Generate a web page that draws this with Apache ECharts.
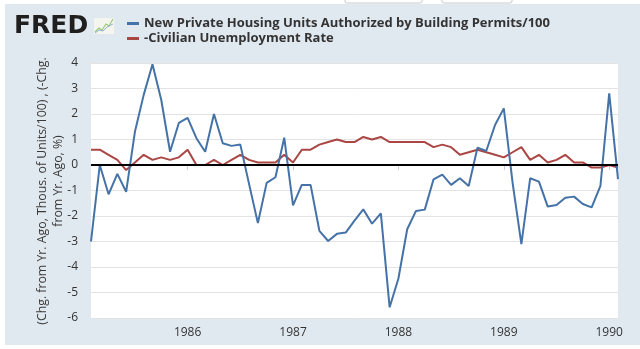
<!DOCTYPE html>
<html>
<head>
<meta charset="utf-8">
<script src="https://cdn.jsdelivr.net/npm/echarts@6/dist/echarts.min.js"></script>
<style>
html,body{margin:0;padding:0;background:#ffffff;}
#chart{width:640px;height:349px;}
</style>
</head>
<body>
<div id="chart"></div>
<script>
// Monthly observations, Feb 1985 .. Feb 1990
var startYear = 1985, startMonth = 2, nPoints = 61;
var categories = [];
for (var i = 0; i < nPoints; i++) {
  var m = startMonth - 1 + i;
  var y = startYear + Math.floor(m / 12);
  var mm = (m % 12) + 1;
  categories.push(y + '-' + (mm < 10 ? '0' + mm : mm));
}

var seriesNames = [
  'New Private Housing Units Authorized by Building Permits/100',
  '-Civilian Unemployment Rate'
];

var permits = [
  -3.0, 0.0, -1.15, -0.35, -1.05, 1.3, 2.75, 3.95, 2.55, 0.52, 1.65, 1.85,
  1.05, 0.52, 2.0, 0.85, 0.75, 0.8, -0.75, -2.28, -0.7, -0.48, 1.07, -1.58,
  -0.78, -0.78, -2.58, -2.98, -2.7, -2.65, -2.18, -1.74, -2.3, -1.9, -5.58, -4.45,
  -2.52, -1.8, -1.75, -0.56, -0.38, -0.78, -0.52, -0.82, 0.68, 0.55, 1.57, 2.22,
  -0.7, -3.1, -0.52, -0.65, -1.63, -1.57, -1.28, -1.24, -1.53, -1.66, -0.82, 2.81,
  -0.55
];

var unemployment = [
  0.6, 0.6, 0.4, 0.2, -0.2, 0.1, 0.4, 0.2, 0.3, 0.2, 0.3, 0.6,
  0.0, 0.0, 0.2, 0.0, 0.2, 0.4, 0.2, 0.1, 0.1, 0.1, 0.4, 0.1,
  0.6, 0.6, 0.8, 0.9, 1.0, 0.9, 0.9, 1.1, 1.0, 1.1, 0.9, 0.9,
  0.9, 0.9, 0.9, 0.7, 0.8, 0.7, 0.4, 0.5, 0.6, 0.5, 0.4, 0.3,
  0.5, 0.7, 0.2, 0.4, 0.1, 0.2, 0.4, 0.1, 0.1, -0.1, -0.1, 0.0,
  -0.1
];

var yMin = -6, yMax = 4, yInterval = 1;
var yTitleLines = ['(Chg. from Yr. Ago, Thous. of Units/100) , (-Chg.', 'from Yr. Ago, %)'];

var font = '"Open Sans", "Liberation Sans", sans-serif';
var chart = echarts.init(document.getElementById('chart'), null, {renderer: 'canvas'});

function isJanuary(idx) { return categories[idx].slice(5) === '01'; }

chart.setOption({
  animation: false,
  backgroundColor: '#ffffff',
  graphic: [
    {type: 'rect', shape: {x: 5, y: 4, width: 640, height: 341}, style: {fill: '#e1e9f0'}, z: -10},
    {type: 'rect', shape: {x: 345, y: -10, width: 77, height: 13, r: 2}, style: {fill: '#fff', stroke: '#c8c8c8', lineWidth: 1}, z: -5},
    {type: 'rect', shape: {x: 442, y: -10, width: 70, height: 13, r: 2}, style: {fill: '#fff', stroke: '#c8c8c8', lineWidth: 1}, z: -5},
    {type: 'text', style: {x: 14, y: 26, text: 'FRED', font: 'bold 25px "DejaVu Sans", sans-serif', fill: '#1f1f1f', textVerticalAlign: 'middle'}},
    {type: 'rect', shape: {x: 94, y: 18, width: 20, height: 16}, style: {fill: '#f3f5ee'}},
    {type: 'polyline', shape: {points: [[95, 32], [99, 28], [102, 30], [106, 24], [109, 26], [113, 19]]}, style: {stroke: '#9cc97a', lineWidth: 1.2, fill: null}},
    {type: 'polyline', shape: {points: [[95, 33], [99, 30], [103, 31], [107, 27], [113, 24]]}, style: {stroke: '#8fb0cf', lineWidth: 1, fill: null}},
    {type: 'text', style: {x: 42, y: 191, text: yTitleLines[0], font: '12.3px ' + font, fill: '#3a3a3a', textAlign: 'center', textVerticalAlign: 'middle'}, rotation: Math.PI / 2, originX: 42, originY: 191},
    {type: 'text', style: {x: 58, y: 181, text: yTitleLines[1], font: '12.3px ' + font, fill: '#3a3a3a', textAlign: 'center', textVerticalAlign: 'middle'}, rotation: Math.PI / 2, originX: 58, originY: 181}
  ],
  legend: {
    orient: 'vertical',
    left: 127,
    top: 16,
    padding: 0,
    itemWidth: 12,
    itemHeight: 3,
    itemGap: 0,
    icon: 'rect',
    textStyle: {fontFamily: font, fontWeight: 'bold', fontSize: 13, lineHeight: 15, color: '#333'},
    data: seriesNames
  },
  grid: {left: 91, right: 22, top: 63, bottom: 31, show: true, backgroundColor: '#ffffff', borderWidth: 0},
  xAxis: {
    type: 'category',
    data: categories,
    boundaryGap: false,
    axisLine: {show: false},
    axisTick: {show: true, length: 5, interval: function (idx) { return isJanuary(idx); }, lineStyle: {color: '#c8cdd2'}},
    axisLabel: {
      interval: function (idx) { return isJanuary(idx); },
      formatter: function (v) { return v.slice(0, 4); },
      fontFamily: font, fontSize: 12, color: '#333', margin: 9
    },
    splitLine: {show: false}
  },
  yAxis: {
    type: 'value',
    min: yMin, max: yMax, interval: yInterval,
    axisLine: {show: false},
    axisTick: {show: false},
    axisLabel: {fontFamily: font, fontSize: 12, color: '#333', margin: 13},
    splitLine: {lineStyle: {color: '#e3e3e3', width: 1}}
  },
  series: [
    {
      name: seriesNames[0], type: 'line', data: permits, showSymbol: false, symbol: 'none',
      lineStyle: {color: '#4572a7', width: 2}, itemStyle: {color: '#4572a7'}, z: 3
    },
    {
      name: seriesNames[1], type: 'line', data: unemployment, showSymbol: false, symbol: 'none',
      lineStyle: {color: '#aa4643', width: 2}, itemStyle: {color: '#aa4643'}, z: 2,
      markLine: {silent: true, symbol: 'none', label: {show: false},
        lineStyle: {color: '#000000', width: 2, type: 'solid'}, data: [{yAxis: 0}]}
    }
  ]
});
</script>
</body>
</html>
